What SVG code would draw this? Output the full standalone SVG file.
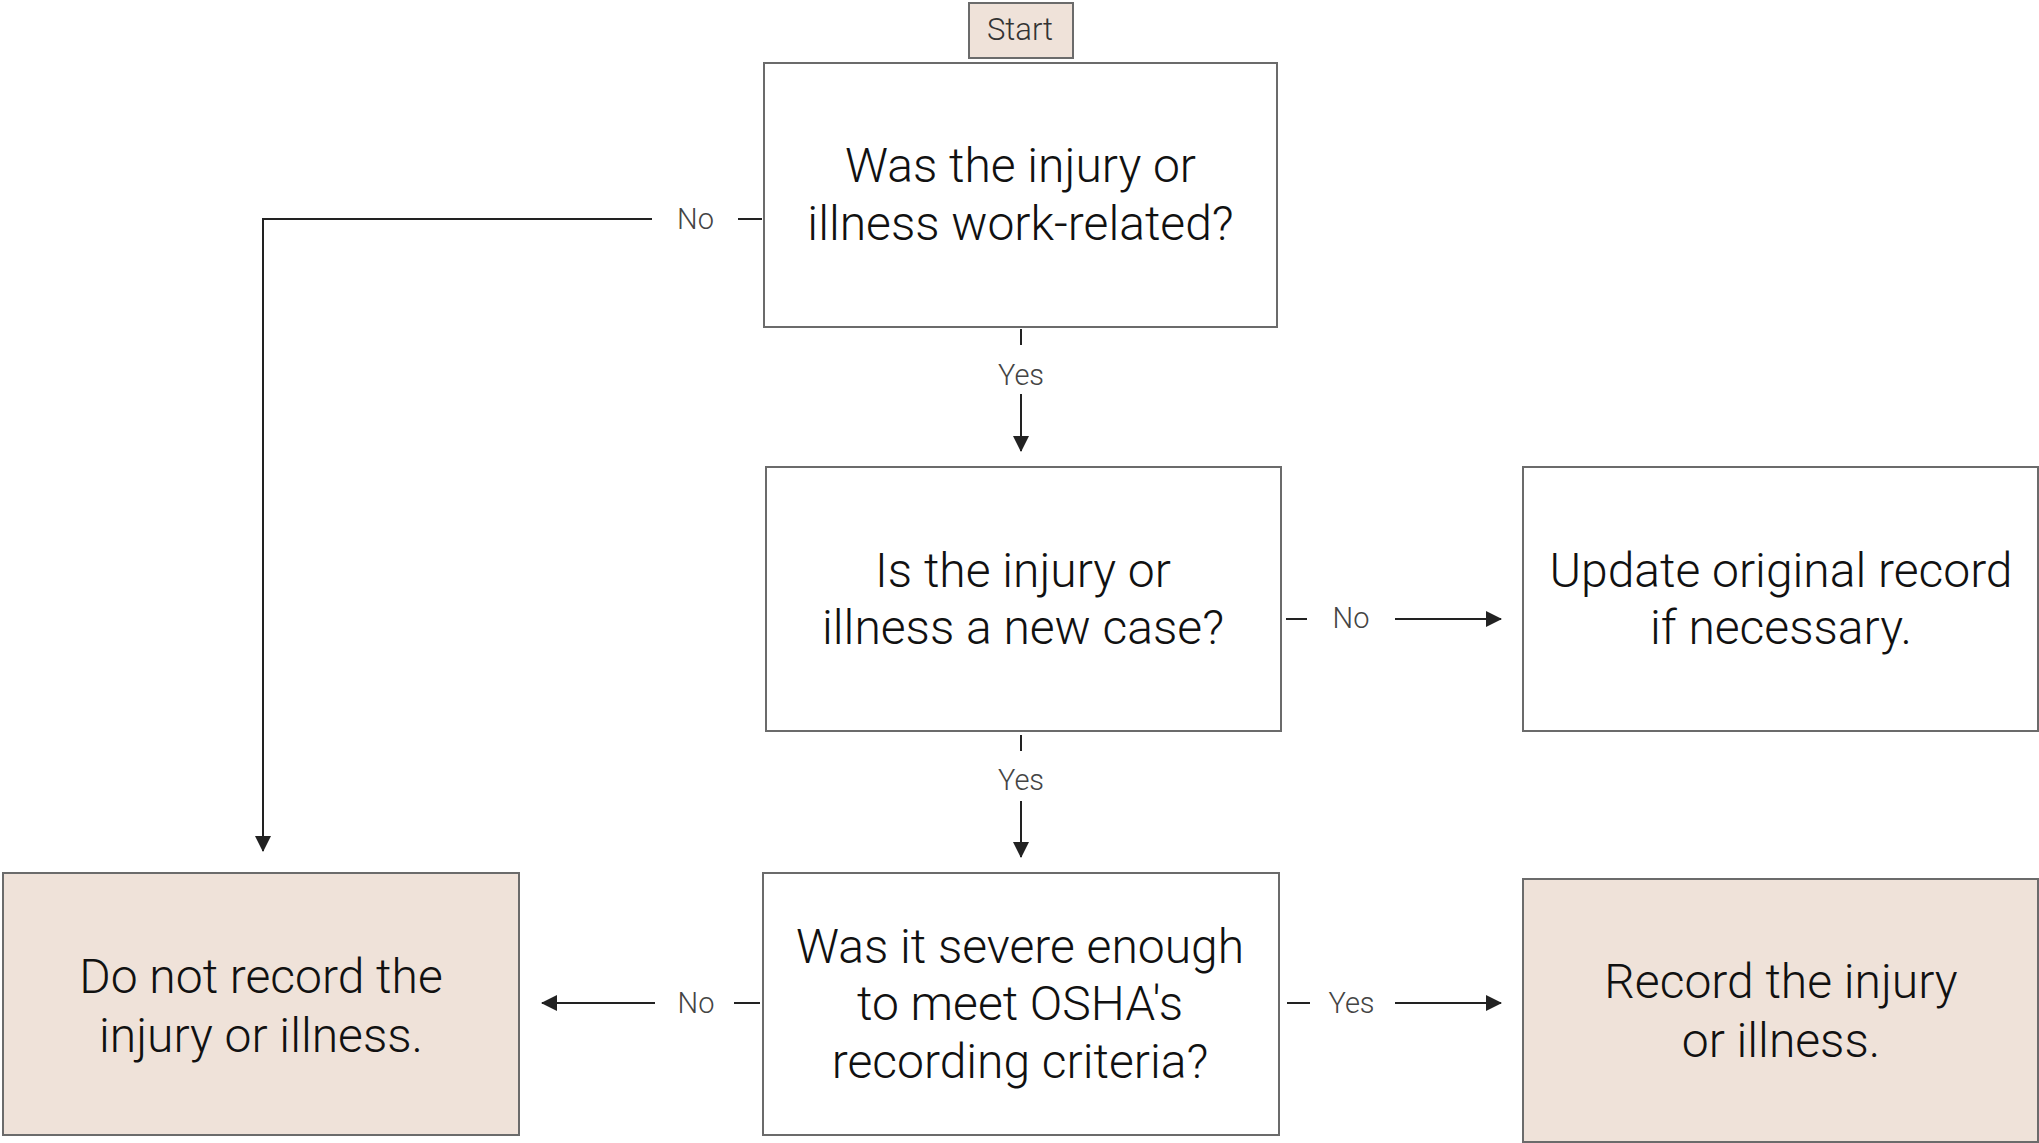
<svg xmlns="http://www.w3.org/2000/svg" width="2039" height="1143" viewBox="0 0 2039 1143">
<style>
.box{fill:#ffffff;stroke:#6b6b6b;stroke-width:2}
.term{fill:#efe2d9;stroke:#6b6b6b;stroke-width:2}
.t{font-family:Roboto,"Liberation Sans",sans-serif;font-weight:300;font-size:48px;fill:#111;text-anchor:middle}
.st{font-family:Roboto,"Liberation Sans",sans-serif;font-weight:300;font-size:31px;fill:#333;text-anchor:middle}
.lbl{font-family:Roboto,"Liberation Sans",sans-serif;font-weight:300;font-size:29px;fill:#444;text-anchor:middle}
.c{fill:none;stroke:#222;stroke-width:2}
</style>
<defs>
<marker id="arr" viewBox="0 0 16 16" refX="15" refY="8" markerWidth="16" markerHeight="16" markerUnits="userSpaceOnUse" orient="auto">
<path d="M0,0 L16,8 L0,16 z" fill="#222"/>
</marker>
</defs>
<g id="start">
<rect class="term" x="969" y="3" width="104" height="55"/>
<text class="st" x="1020" y="40">Start</text>
</g>
<g id="q-work-related">
<rect class="box" x="764" y="63" width="513" height="264"/>
<text class="t" x="1020.5" y="182">Was the injury or</text>
<text class="t" x="1020.5" y="240">illness work-related?</text>
</g>
<g id="q-new-case">
<rect class="box" x="766" y="467" width="515" height="264"/>
<text class="t" x="1023" y="587">Is the injury or</text>
<text class="t" x="1023" y="644">illness a new case?</text>
</g>
<g id="update-record">
<rect class="box" x="1523" y="467" width="515" height="264"/>
<text class="t" x="1781" y="587">Update original record</text>
<text class="t" x="1781" y="644">if necessary.</text>
</g>
<g id="q-severe">
<rect class="box" x="763" y="873" width="516" height="262"/>
<text class="t" x="1020" y="963">Was it severe enough</text>
<text class="t" x="1020" y="1020">to meet OSHA's</text>
<text class="t" x="1020" y="1078">recording criteria?</text>
</g>
<g id="do-not-record">
<rect class="term" x="3" y="873" width="516" height="262"/>
<text class="t" x="261" y="993">Do not record the</text>
<text class="t" x="261" y="1052">injury or illness.</text>
</g>
<g id="record">
<rect class="term" x="1523" y="879" width="515" height="263"/>
<text class="t" x="1781" y="998">Record the injury</text>
<text class="t" x="1781" y="1057">or illness.</text>
</g>
<g id="connectors">
<line class="c" x1="738" y1="219" x2="762" y2="219"/>
<text class="lbl" x="695.5" y="229">No</text>
<path class="c" d="M652,219 H263 V851" marker-end="url(#arr)"/>

<line class="c" x1="1021" y1="329" x2="1021" y2="345"/>
<text class="lbl" x="1021" y="385">Yes</text>
<line class="c" x1="1021" y1="394" x2="1021" y2="451" marker-end="url(#arr)"/>

<line class="c" x1="1286" y1="619" x2="1307" y2="619"/>
<text class="lbl" x="1351" y="628">No</text>
<line class="c" x1="1395" y1="619" x2="1501" y2="619" marker-end="url(#arr)"/>

<line class="c" x1="1021" y1="735" x2="1021" y2="751"/>
<text class="lbl" x="1021" y="790">Yes</text>
<line class="c" x1="1021" y1="801" x2="1021" y2="857" marker-end="url(#arr)"/>

<line class="c" x1="734" y1="1003" x2="760" y2="1003"/>
<text class="lbl" x="696" y="1013">No</text>
<line class="c" x1="655" y1="1003" x2="542" y2="1003" marker-end="url(#arr)"/>

<line class="c" x1="1287" y1="1003" x2="1310" y2="1003"/>
<text class="lbl" x="1351.5" y="1013">Yes</text>
<line class="c" x1="1395" y1="1003" x2="1501" y2="1003" marker-end="url(#arr)"/>
</g>
</svg>
